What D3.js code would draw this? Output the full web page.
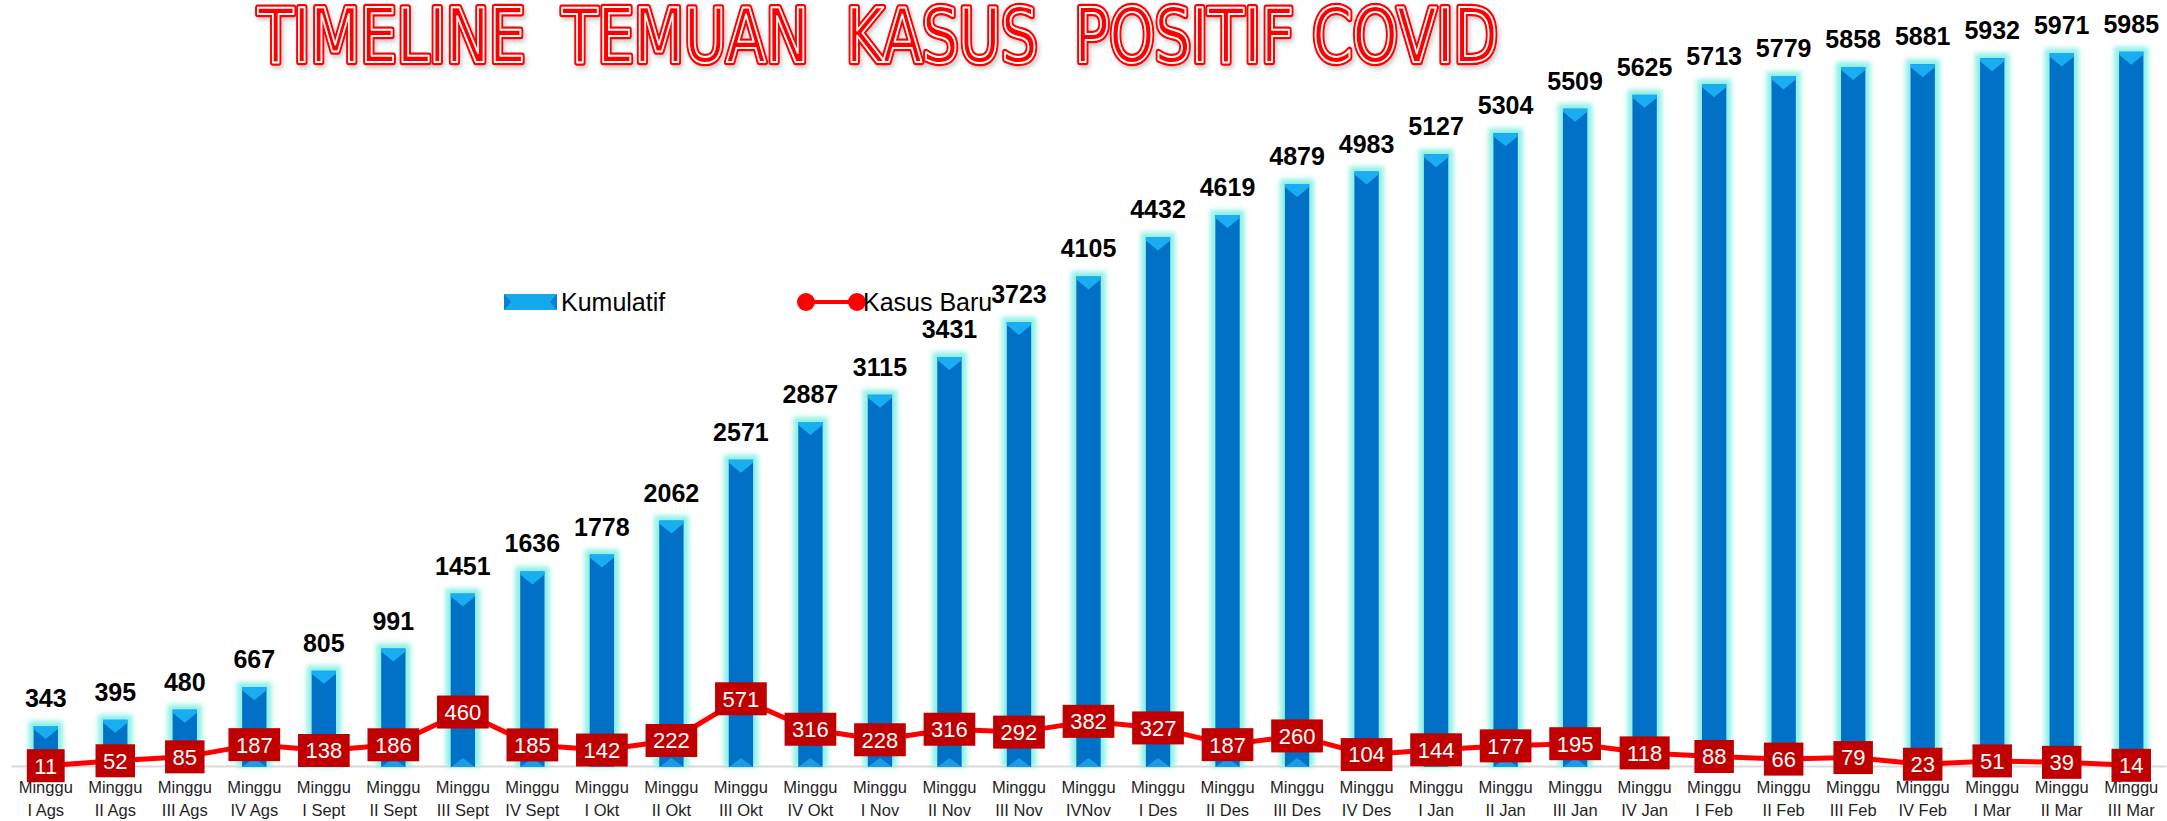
<!DOCTYPE html>
<html>
<head>
<meta charset="utf-8">
<script src="https://cdn.jsdelivr.net/npm/d3@7"></script>
<style>
  body { margin: 0; background: #ffffff; }
  svg { display: block; font-family: "Liberation Sans", Arial, sans-serif; }
</style>
</head>
<body>
<svg id="chart" width="2167" height="821"></svg>
<script>
// data
var weeks = ["I Ags", "II Ags", "III Ags", "IV Ags", "I Sept", "II Sept", "III Sept", "IV Sept",
             "I Okt", "II Okt", "III Okt", "IV Okt", "I Nov", "II Nov", "III Nov", "IVNov",
             "I Des", "II Des", "III Des", "IV Des", "I Jan", "II Jan", "III Jan", "IV Jan",
             "I Feb", "II Feb", "III Feb", "IV Feb", "I Mar", "II Mar", "III Mar"];
var kumulatif = [343, 395, 480, 667, 805, 991, 1451, 1636, 1778, 2062, 2571, 2887, 3115, 3431, 3723, 4105,
                 4432, 4619, 4879, 4983, 5127, 5304, 5509, 5625, 5713, 5779, 5858, 5881, 5932, 5971, 5985];
var kasusBaru = [11, 52, 85, 187, 138, 186, 460, 185, 142, 222, 571, 316, 228, 316, 292, 382,
                 327, 187, 260, 104, 144, 177, 195, 118, 88, 66, 79, 23, 51, 39, 14];
var seriesNames = ["Kumulatif", "Kasus Baru"];
var titleText = "TIMELINE  TEMUAN  KASUS  POSITIF COVID";

var svg = d3.select("#chart");

var defs = svg.append("defs");
defs.append("filter").attr("id", "glow")
  .attr("x", "-50%").attr("y", "-50%").attr("width", "200%").attr("height", "200%")
  .append("feGaussianBlur").attr("stdDeviation", 2.5);
var shadow = defs.append("filter").attr("id", "shadow")
  .attr("x", "-5%").attr("y", "-20%").attr("width", "110%").attr("height", "150%");
shadow.append("feDropShadow").attr("dx", 2).attr("dy", 3).attr("stdDeviation", 2)
  .attr("flood-color", "#000").attr("flood-opacity", 0.2);

// scales
var x = d3.scaleBand()
  .domain(weeks)
  .range([11, 2166])
  .paddingInner(0.65)
  .paddingOuter(0.325);

var y = d3.scaleLinear()
  .domain([0, 6000])
  .range([767, 50]);

// title: red fill, white inline, red outline
var title = svg.append("g").attr("class", "title");
[["#ff0000", 6.5, "url(#shadow)"], ["#ffffff", 2, null]].forEach(function (s) {
  title.append("text")
    .attr("x", 258).attr("y", 62)
    .attr("textLength", 1240).attr("lengthAdjust", "spacingAndGlyphs")
    .style("white-space", "pre")
    .style("font-family", "'Liberation Sans Narrow', 'DejaVu Sans Condensed', sans-serif")
    .style("font-size", "74px")
    .attr("fill", "#ff0000").attr("stroke", s[0]).attr("stroke-width", s[1])
    .attr("stroke-linejoin", "round")
    .attr("filter", s[2])
    .text(titleText);
});

// x axis
var xAxis = d3.axisBottom(x).tickSize(0).tickSizeOuter(0);
var gx = svg.append("g")
  .attr("transform", "translate(0," + 766 + ")")
  .call(xAxis);
gx.select(".domain").attr("stroke", "#d9d9d9").attr("stroke-width", 2);
gx.selectAll(".tick text").each(function (d) {
  var t = d3.select(this);
  t.text(null).attr("y", 0).attr("dy", null)
    .attr("fill", "#1f1f1f")
    .style("font-size", "16.5px")
    .style("font-family", "'Liberation Sans', Arial, sans-serif");
  t.append("tspan").attr("x", 0).attr("y", 27).text("Minggu");
  t.append("tspan").attr("x", 0).attr("y", 50).text(d);
});

// bars
var bw = x.bandwidth();
var bars = svg.append("g").selectAll("g")
  .data(kumulatif)
  .enter().append("g")
  .attr("transform", function (d, i) { return "translate(" + x(weeks[i]) + ",0)"; });

bars.append("rect")
  .attr("x", -5).attr("width", bw + 10)
  .attr("y", function (d) { return y(d) - 5; })
  .attr("height", function (d) { return y(0) - y(d) + 5; })
  .attr("fill", "#8ef0e6")
  .attr("filter", "url(#glow)");

bars.append("rect")
  .attr("x", 0).attr("width", bw)
  .attr("y", function (d) { return y(d); })
  .attr("height", function (d) { return y(0) - y(d); })
  .attr("fill", "#0071c6");

bars.append("polygon")
  .attr("points", function (d) {
    var t = y(d);
    return [[0, t], [bw, t], [bw, t + 3], [bw / 2, t + 13], [0, t + 3]].join(" ");
  })
  .attr("fill", "#19aef2");

bars.append("polygon")
  .attr("points", function () {
    var b = y(0);
    return [[0, b], [bw / 2, b - 9], [bw, b]].join(" ");
  })
  .attr("fill", "#1c9be6");

// line series
var line = d3.line()
  .x(function (d, i) { return x(weeks[i]) + bw / 2; })
  .y(function (d) { return y(d); });

svg.append("path")
  .datum(kasusBaru)
  .attr("d", line)
  .attr("fill", "none")
  .attr("stroke", "#ff0000")
  .attr("stroke-width", 5)
  .attr("stroke-linejoin", "round");

// line labels (boxes)
var boxes = svg.append("g").selectAll("g")
  .data(kasusBaru)
  .enter().append("g")
  .attr("transform", function (d, i) {
    return "translate(" + (x(weeks[i]) + bw / 2) + "," + y(d) + ")";
  });

boxes.append("text")
  .attr("text-anchor", "middle")
  .attr("dy", "0.36em")
  .attr("fill", "#ffffff")
  .style("font-size", "22px")
  .text(function (d) { return d; })
  .each(function () {
    var w = this.getComputedTextLength() + 15;
    d3.select(this.parentNode).insert("rect", "text")
      .attr("x", -w / 2).attr("y", -16.5)
      .attr("width", w).attr("height", 33)
      .attr("fill", "#c00000");
  });

// bar labels
svg.append("g").selectAll("text")
  .data(kumulatif)
  .enter().append("text")
  .attr("x", function (d, i) { return x(weeks[i]) + bw / 2; })
  .attr("y", function (d) { return y(d) - 19; })
  .attr("text-anchor", "middle")
  .attr("fill", "#000")
  .style("font-size", "25px")
  .style("font-weight", "bold")
  .text(function (d) { return d; });

// legend
var legend = svg.append("g");
var lg1 = legend.append("g").attr("transform", "translate(504,294)");
lg1.append("rect").attr("width", 53).attr("height", 16).attr("fill", "#14a8ef");
lg1.append("polygon").attr("points", "0,0 7,8 0,16").attr("fill", "#0a7fd0");
lg1.append("polygon").attr("points", "53,0 46,8 53,16").attr("fill", "#0a7fd0");
legend.append("text")
  .attr("x", 561).attr("y", 302).attr("dy", "0.35em")
  .attr("fill", "#000").style("font-size", "25px")
  .text(seriesNames[0]);

var lg2 = legend.append("g").attr("transform", "translate(0,302)");
lg2.append("line").attr("x1", 806).attr("x2", 857)
  .attr("stroke", "#ff0000").attr("stroke-width", 4);
lg2.selectAll("circle").data([806, 857]).enter().append("circle")
  .attr("cx", function (d) { return d; }).attr("r", 9).attr("fill", "#ff0000");
legend.append("text")
  .attr("x", 863).attr("y", 302).attr("dy", "0.35em")
  .attr("fill", "#000").style("font-size", "25px")
  .text(seriesNames[1]);
</script>
</body>
</html>
